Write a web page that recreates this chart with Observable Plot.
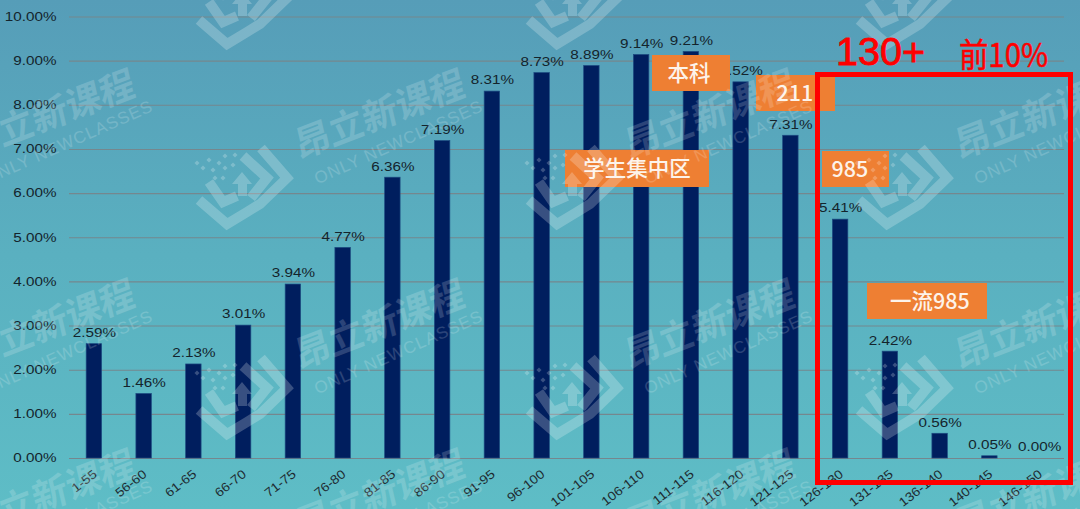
<!DOCTYPE html>
<html lang="zh">
<head>
<meta charset="utf-8">
<script src="https://cdn.jsdelivr.net/npm/d3@7"></script>
<script src="https://cdn.jsdelivr.net/npm/@observablehq/plot@0.6"></script>
<style>
html,body{margin:0;padding:0;width:1080px;height:509px;overflow:hidden;background:linear-gradient(180deg,#569db8 0%,#5ab0c0 50%,#5ebdc6 100%);}
#wrap{position:relative;width:1080px;height:509px;}
#wrap svg{position:absolute;left:0;top:0;}
</style>
</head>
<body>
<div id="wrap"></div>
<script>
const categories = ["1-55","56-60","61-65","66-70","71-75","76-80","81-85","86-90","91-95","96-100","101-105","106-110","111-115","116-120","121-125","126-130","131-135","136-140","140-145","146-150"];
const shares = [2.59,1.46,2.13,3.01,3.94,4.77,6.36,7.19,8.31,8.73,8.89,9.14,9.21,8.52,7.31,5.41,2.42,0.56,0.05,0.00];
const yTicks = [0,1,2,3,4,5,6,7,8,9,10];
const table = categories.map((c,i)=>({c,v:shares[i]}));
const pct = v => v.toFixed(2)+"%";

const plot = Plot.plot({
  width:1080,height:509,marginTop:16.5,marginBottom:51,marginLeft:69,marginRight:16,
  style:{background:"transparent",overflow:"visible"},
  x:{domain:categories,paddingInner:0.69,paddingOuter:0.345,round:false,label:null},
  y:{domain:[0,10],label:null},
  marks:[
    Plot.ruleY(yTicks,{stroke:"#75878e",strokeWidth:1.1}),
    Plot.barY(table,{x:"c",y:"v",fill:"#001e5e",stroke:"#1c4a80",strokeWidth:0.7}),
    Plot.text(table,{x:"c",y:"v",text:d=>pct(d.v),dy:-11,fontSize:12,fontFamily:"Liberation Sans",fill:"#14242c"}),
    Plot.axisY({ticks:yTicks,tickFormat:pct,tickSize:0,tickPadding:13,fontSize:12,fontFamily:"Liberation Sans",color:"#14242c",label:null}),
    Plot.axisX({tickRotate:-38,tickSize:0,tickPadding:14,dx:1,fontSize:12.5,fontFamily:"Liberation Sans",color:"#1f2c32",label:null})
  ]
});
document.getElementById("wrap").appendChild(plot);

// stretched look of the chart's labels
const stretch=(sel,k)=>plot.querySelectorAll(sel).forEach(t=>{
  t.setAttribute("textLength",(t.getComputedTextLength()*k).toFixed(1));
  t.setAttribute("lengthAdjust","spacingAndGlyphs");
});
stretch('g[aria-label="text"] text, g[aria-label="y-axis tick label"] text',1.27);
stretch('g[aria-label="x-axis tick label"] text',1.12);

// overlays: annotation boxes, watermark, red frame
const ns="http://www.w3.org/2000/svg";
const over=d3.select("#wrap").append("svg").attr("width",1080).attr("height",509).attr("xmlns",ns);
const boxes=[
  {t:"本科",x0:652,x1:730,y0:55,y1:91,cx:689},
  {t:"211",x0:756,x1:835,y0:75,y1:111,cx:795},
  {t:"学生集中区",x0:565,x1:709,y0:150,y1:187,cx:637},
  {t:"985",x0:822,x1:889,y0:151,y1:187,cx:850},
  {t:"一流985",x0:867,x1:987,y0:283,y1:319,cx:930}
];
boxes.forEach(b=>{
  over.append("rect").attr("x",b.x0).attr("y",b.y0).attr("width",b.x1-b.x0).attr("height",b.y1-b.y0).attr("fill","#ee7f33");
  over.append("text").attr("x",b.cx).attr("y",(b.y0+b.y1)/2+7.5).attr("text-anchor","middle")
    .attr("font-family","'Noto Sans CJK SC','Noto Sans'").attr("font-size",21.5).attr("font-weight",500).attr("fill","#fdf3ea").text(b.t);
});
const wm=over.append("g").attr("fill","#fff").attr("stroke","none");
[[50,115],[380,115],[710,115],[1040,115],[50,325],[380,325],[710,325],[1040,325],[50,495],[380,495],[710,495],[1040,495]].forEach(([x,y])=>{
  const g=wm.append("g").attr("transform",`translate(${x},${y}) rotate(-21)`).attr("opacity",0.17);
  g.append("text").attr("text-anchor","middle").attr("y",12).attr("font-family","'Noto Sans CJK SC'").attr("font-weight",700)
    .attr("font-size",36).attr("transform","skewX(-8)").text("昂立新课程");
  g.append("text").attr("text-anchor","middle").attr("x",6).attr("y",38).attr("font-family","'Liberation Sans'")
    .attr("font-size",17).attr("letter-spacing",1).attr("transform","rotate(-3)").text("ONLY NEWCLASSES");
});
[[227,50],[557,50],[887,50],[227,230],[557,230],[887,230],[227,440],[557,440],[887,440]].forEach(([x,y])=>{
  const g=over.append("g").attr("transform",`translate(${x},${y})`).attr("opacity",0.22)
    .attr("fill","none").attr("stroke","#fff").attr("stroke-width",10);
  g.append("polyline").attr("points","-28,-30 0,-6 20,-18 33,-26 60,-52 34,-82");
  g.append("polyline").attr("points","16,-74 40,-52 24,-32");
  g.append("polyline").attr("points","-18,-48 -4,-28 10,-34");
  g.append("polygon").attr("points","15,-58 5,-46 11,-46 11,-34 20,-34 20,-46 25,-46").attr("fill","#fff").attr("stroke","none");
  [[-30,-67],[-24,-62],[-18,-70],[-14,-60],[-12,-52],[-8,-67],[-2,-62],[-2,-74],[6,-65],[-4,-52],[8,-75]].forEach(([a,b])=>{
    g.append("rect").attr("x",a-1.8).attr("y",b-1.8).attr("width",3.6).attr("height",3.6).attr("fill","#fff").attr("stroke","none").attr("transform",`rotate(45 ${a} ${b})`);
  });
});
over.append("rect").attr("x",817.5).attr("y",74.5).attr("width",253).attr("height",408).attr("fill","none").attr("stroke","#ff0000").attr("stroke-width",5);
over.append("text").attr("x",836).attr("y",65).attr("font-family","'Liberation Sans'").attr("font-size",38).attr("stroke","#ff0000").attr("stroke-width",0.8).attr("fill","#ff0000").attr("textLength",89).attr("lengthAdjust","spacingAndGlyphs").text("130+");
over.append("text").attr("x",959).attr("y",67).attr("font-family","'Noto Sans CJK SC'").attr("font-size",33).attr("stroke","#ff0000").attr("stroke-width",0.5).attr("fill","#ff0000").attr("textLength",89).attr("lengthAdjust","spacingAndGlyphs").text("前10%");
</script>
</body>
</html>
